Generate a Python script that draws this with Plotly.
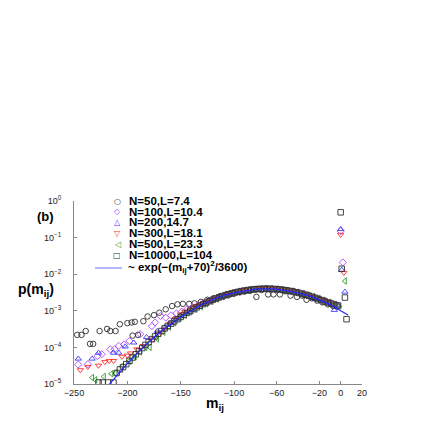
import plotly.graph_objects as go

# distribution p(m_ij) for several system sizes
n50_m = [-247, -243, -239, -235, -232, -226, -219, -216, -211, -207, -200, -196, -193, -195, -190,
         -185, -181, -175, -170, -164, -158, -153, -148, -142, -137, -131, -125, -119, -113, -107,
         -101, -95, -90, -85, -79, -74, -68, -63, -57, -52, -47, -41, -36, -32, -27, -22, -17,
         -12, -7, -3]
n50_p = [2.2e-4, 2.2e-4, 2.8e-4, 1.25e-4, 1.25e-4, 2.8e-4, 3.2e-4, 2.8e-4, 2.8e-4, 4.3e-4, 4.6e-4,
         4.8e-4, 5.0e-4, 2.1e-4, 2.2e-4, 5.2e-4, 7.0e-4, 7.6e-4, 8.9e-4, 1.1e-3, 1.35e-3, 1.5e-3,
         1.55e-3, 1.55e-3, 1.6e-3, 1.75e-3, 2.0e-3, 2.2e-3, 2.5e-3, 2.8e-3, 3.0e-3, 3.3e-3, 3.4e-3,
         3.5e-3, 2.4e-3, 3.7e-3, 2.8e-3, 2.8e-3, 2.8e-3, 3.4e-3, 2.6e-3, 2.4e-3, 2.6e-3, 2.0e-3,
         2.2e-3, 1.9e-3, 1.7e-3, 1.5e-3, 1.35e-3, 1.3e-3]

n100_m = [-246, -237, -228, -224, -216, -212, -208, -203, -198, -188, -177, -174, -169, -164, -159,
          -154, -149, -144, -139, -134, -129, -124, -119, -114, -109, -104, -99, -94, -89, -84, -79,
          -74, -69, -64, -59, -54, -49, -44, -39, -34, -29, -24, -19, -14, -9, -4, 0, 2]
n100_p = [3.4e-5, 3.5e-5, 5.8e-5, 6.5e-5, 8.9e-5, 8.9e-5, 1.1e-4, 1.2e-4, 1.5e-4, 2.3e-4, 3.8e-4,
          4.8e-4, 7.2e-4, 6.5e-4, 7.5e-4, 8.5e-4, 9.5e-4, 1.1e-3, 1.25e-3, 1.4e-3, 1.6e-3, 1.8e-3,
          2.05e-3, 2.3e-3, 2.55e-3, 2.8e-3, 3.05e-3, 3.3e-3, 3.55e-3, 3.75e-3, 3.85e-3, 3.95e-3,
          4.05e-3, 4.0e-3, 3.9e-3, 3.75e-3, 3.55e-3, 3.4e-3, 3.15e-3, 2.9e-3, 2.6e-3, 2.3e-3,
          2.05e-3, 1.85e-3, 1.65e-3, 1.45e-3, 0.15, 2.1e-2]

n200_m = [-246, -233, -227, -213, -208, -202, -194, -182, -172, -165, -160, -155, -150, -145, -140,
          -135, -130, -125, -120, -115, -110, -105, -100, -95, -90, -85, -80, -75, -70, -65, -60,
          -55, -50, -45, -40, -35, -30, -25, -20, -15, -10, -6, -2, 0, 1, 4]
n200_p = [4.9e-5, 4.9e-5, 7.1e-5, 7.1e-5, 7.1e-5, 1.05e-4, 1.35e-4, 1.9e-4, 2.8e-4, 3.6e-4, 4.6e-4,
          5.8e-4, 7.2e-4, 8.8e-4, 1.05e-3, 1.25e-3, 1.5e-3, 1.75e-3, 2.0e-3, 2.3e-3, 2.55e-3,
          2.8e-3, 3.1e-3, 3.35e-3, 3.55e-3, 3.75e-3, 3.9e-3, 4.0e-3, 4.05e-3, 4.0e-3, 3.9e-3,
          3.75e-3, 3.55e-3, 3.35e-3, 3.1e-3, 2.85e-3, 2.6e-3, 2.35e-3, 2.1e-3, 1.85e-3, 1.65e-3,
          1.05e-3, 1.4e-3, 0.17, 1.3e-2, 3.3e-3]

n300_m = [-244, -237, -227, -221, -217, -213, -205, -200, -197, -191, -185, -176, -170, -165, -160,
          -155, -150, -146, -141, -136, -131, -126, -121, -116, -111, -106, -101, -96, -91, -86,
          -81, -76, -71, -66, -61, -56, -51, -46, -41, -36, -31, -26, -21, -16, -11, -6, 0, 3]
n300_p = [2.4e-5, 2.95e-5, 3.2e-5, 4.0e-5, 4.3e-5, 4.3e-5, 5.6e-5, 6.0e-5, 6.9e-5, 8.9e-5, 1.1e-4,
          1.65e-4, 2.3e-4, 3.1e-4, 4.4e-4, 6.0e-4, 8.0e-4, 9.5e-4, 1.1e-3, 1.3e-3, 1.5e-3, 1.75e-3,
          1.95e-3, 2.2e-3, 2.5e-3, 2.75e-3, 3.0e-3, 3.25e-3, 3.5e-3, 3.7e-3, 3.85e-3, 3.95e-3,
          4.0e-3, 4.0e-3, 3.9e-3, 3.8e-3, 3.6e-3, 3.4e-3, 3.15e-3, 2.9e-3, 2.65e-3, 2.4e-3,
          2.15e-3, 1.9e-3, 1.7e-3, 1.5e-3, 0.12, 1.1e-2]

n500_m = [-233, -230, -222, -215, -211, -205, -198, -193, -188, -183, -179, -172, -166, -161, -156,
          -151, -146, -141, -136, -131, -126, -121, -116, -111, -106, -101, -96, -91, -86, -81,
          -76, -71, -66, -61, -56, -51, -46, -41, -36, -31, -26, -21, -16, -11, -6, -1, 4]
n500_p = [1.5e-5, 1.3e-5, 1.6e-5, 1.9e-5, 2.0e-5, 3.0e-5, 4.2e-5, 5.5e-5, 7.5e-5, 1.0e-4, 1.0e-4,
          1.7e-4, 2.6e-4, 3.6e-4, 4.7e-4, 6.1e-4, 7.6e-4, 9.3e-4, 1.1e-3, 1.3e-3, 1.55e-3, 1.8e-3,
          2.1e-3, 2.4e-3, 2.65e-3, 2.9e-3, 3.2e-3, 3.4e-3, 3.6e-3, 3.8e-3, 3.9e-3, 4.0e-3,
          3.95e-3, 3.9e-3, 3.75e-3, 3.6e-3, 3.4e-3, 3.2e-3, 2.95e-3, 2.7e-3, 2.45e-3, 2.2e-3,
          1.95e-3, 1.7e-3, 1.5e-3, 1.35e-3, 6.5e-3]

n10000_m = [-227, -223, -218, -213, -210, -207, -204, -201, -198, -195, -192, -189, -186, -183,
            -180, -177, -174, -171, -168, -165, -162, -159, -156, -153, -150, -147, -144, -141,
            -138, -135, -132, -129, -126, -123, -120, -117, -114, -111, -108, -105, -102, -99,
            -96, -93, -90, -87, -84, -81, -78, -75, -72, -69, -66, -63, -60, -57, -54, -51, -48,
            -45, -42, -39, -36, -33, -30, -27, -24, -21, -18, -15, -12, -9, -6, -3,
            0, 1, 4, 5.5]
n10000_p = [1.1e-5, 1.1e-5, 1.1e-5, 1.1e-5, 2.0e-5, 2.5e-5, 2.9e-5, 3.5e-5, 4.3e-5, 5.3e-5, 6.5e-5,
            7.9e-5, 9.6e-5, 1.17e-4, 1.4e-4, 1.68e-4, 2.0e-4, 2.36e-4, 2.8e-4, 3.3e-4, 3.85e-4,
            4.45e-4, 5.15e-4, 5.9e-4, 6.8e-4, 7.7e-4, 8.8e-4, 9.9e-4, 1.11e-3, 1.24e-3, 1.38e-3,
            1.52e-3, 1.67e-3, 1.83e-3, 2.0e-3, 2.17e-3, 2.34e-3, 2.51e-3, 2.68e-3, 2.85e-3, 3.0e-3,
            3.17e-3, 3.31e-3, 3.45e-3, 3.58e-3, 3.69e-3, 3.79e-3, 3.86e-3, 3.93e-3, 3.98e-3, 4.0e-3,
            4.0e-3, 3.98e-3, 3.94e-3, 3.89e-3, 3.82e-3, 3.73e-3, 3.62e-3, 3.5e-3, 3.37e-3, 3.22e-3,
            3.07e-3, 2.91e-3, 2.75e-3, 2.58e-3, 2.42e-3, 2.26e-3, 2.1e-3, 1.95e-3, 1.8e-3, 1.68e-3,
            1.58e-3, 1.48e-3, 1.4e-3,
            0.49, 1.4e-2, 2.3e-3, 5.9e-4]

# fitted gaussian ~ exp(-(m+70)^2/3600)
fit_m = [-220, -210, -200, -190, -180, -170, -160, -150, -140, -130, -120, -110, -100, -90, -80,
         -70, -60, -50, -40, -30, -20, -10, 0, 7]
fit_p = [7.7e-6, 1.7e-5, 3.6e-5, 7.2e-5, 1.4e-4, 2.5e-4, 4.2e-4, 6.8e-4, 1.0e-3, 1.5e-3, 2.0e-3,
         2.6e-3, 3.1e-3, 3.5e-3, 3.9e-3, 4.0e-3, 3.9e-3, 3.5e-3, 3.1e-3, 2.6e-3, 2.0e-3, 1.5e-3,
         1.0e-3, 7.7e-4]

labels = ['N=50,L=7.4', 'N=100,L=10.4', 'N=200,14.7', 'N=300,L=18.1', 'N=500,L=23.3',
          'N=10000,L=104']
fit_label = '~ exp(\u2212(m<sub>ij</sub>+70)<sup>2</sup>/3600)'
x_ticks = [-250, -200, -150, -100, -60, -20, 0, 20]
y_ticks = [1e-5, 1e-4, 1e-3, 1e-2, 1e-1, 1]
y_ticktext = ['10<sup>\u22125</sup>', '10<sup>\u22124</sup>', '10<sup>\u22123</sup>',
              '10<sup>\u22122</sup>', '10<sup>\u22121</sup>', '10<sup>0</sup>']

series = [(n50_m, n50_p), (n100_m, n100_p), (n200_m, n200_p), (n300_m, n300_p),
          (n500_m, n500_p), (n10000_m, n10000_p)]
symbols = ['circle-open', 'diamond-open', 'triangle-up-open', 'triangle-down-open',
           'triangle-left-open', 'square-open']
glyphs = ['\u25cb', '\u25c7', '\u25b3', '\u25bd', '\u25c1', '\u25a1']
colors = ['#2e2e2e', '#b048ff', '#3b3bff', '#ff3030', '#2f9a2f', '#303030']

FONT = 'Liberation Sans, Arial, Helvetica, sans-serif'
OFF = 8                       # page body margin
W, H = 436 - OFF, 436 - OFF
L, R, T, B = 74, 362, 201, 384  # plot area in page pixels


def px(x):
    return (x - L) / (R - L)


def py(y):
    return (B - y) / (B - T)


fig = go.Figure()
for (m, p), sym, col in zip(series, symbols, colors):
    fig.add_trace(go.Scatter(x=m, y=p, mode='markers', showlegend=False,
                             marker=dict(symbol=sym, size=5.5, color=col,
                                         line=dict(width=0.9, color=col))))
fig.add_trace(go.Scatter(x=fit_m, y=fit_p, mode='lines', showlegend=False,
                         line=dict(color='#2323ff', width=1.2)))

ann = []
row_y = [201, 211.5, 222, 233, 244, 255, 267]
for g, col, lab, yy in zip(glyphs, colors, labels, row_y):
    ann.append(dict(x=px(117), y=py(yy), xref='paper', yref='paper', text=g, showarrow=False,
                    font=dict(family='DejaVu Sans', size=8, color=col), xanchor='center',
                    yanchor='middle'))
    ann.append(dict(x=px(127), y=py(yy), xref='paper', yref='paper', text='<b>%s</b>' % lab,
                    showarrow=False, font=dict(family=FONT, size=11.5, color='black'),
                    xanchor='left', yanchor='middle'))
ann.append(dict(x=px(126), y=py(row_y[-1]), xref='paper', yref='paper',
                text='<b>%s</b>' % fit_label, showarrow=False,
                font=dict(family=FONT, size=11.5, color='black'), xanchor='left',
                yanchor='middle'))
ann.append(dict(x=px(45), y=py(216), xref='paper', yref='paper', text='<b>(b)</b>',
                showarrow=False, font=dict(family=FONT, size=13, color='black'),
                xanchor='center', yanchor='middle'))
ann.append(dict(x=px(36), y=py(290), xref='paper', yref='paper',
                text='<b>p(m<sub>ij</sub>)</b>', showarrow=False,
                font=dict(family=FONT, size=14, color='black'), xanchor='center',
                yanchor='middle'))
ann.append(dict(x=px(215), y=py(404), xref='paper', yref='paper',
                text='<b>m<sub>ij</sub></b>', showarrow=False,
                font=dict(family=FONT, size=14, color='black'), xanchor='center',
                yanchor='middle'))

fig.update_layout(
    width=W, height=H,
    margin=dict(l=L - OFF, r=W - (R - OFF), t=T - OFF, b=H - (B - OFF), pad=0),
    paper_bgcolor='white', plot_bgcolor='white',
    font=dict(family=FONT, size=9, color='#222'),
    annotations=ann,
    shapes=[dict(type='line', xref='paper', yref='paper', x0=px(95), x1=px(122),
                 y0=py(row_y[-1] + 1), y1=py(row_y[-1] + 1),
                 line=dict(color='#6a6aff', width=1))],
)
fig.update_xaxes(range=[-250, 20], tickvals=x_ticks, ticks='inside', ticklen=3,
                 tickcolor='#888', showline=True, linecolor='#888', linewidth=1,
                 showgrid=False, zeroline=False, tickfont=dict(size=9), automargin=False)
fig.update_yaxes(type='log', range=[-5, 0], tickvals=y_ticks, ticktext=y_ticktext,
                 ticks='inside', ticklen=3, tickcolor='#888', showline=True,
                 linecolor='#888', linewidth=1, showgrid=False, zeroline=False,
                 tickfont=dict(size=9), ticklabelstandoff=10, automargin=False)

fig.write_html('out.html')
